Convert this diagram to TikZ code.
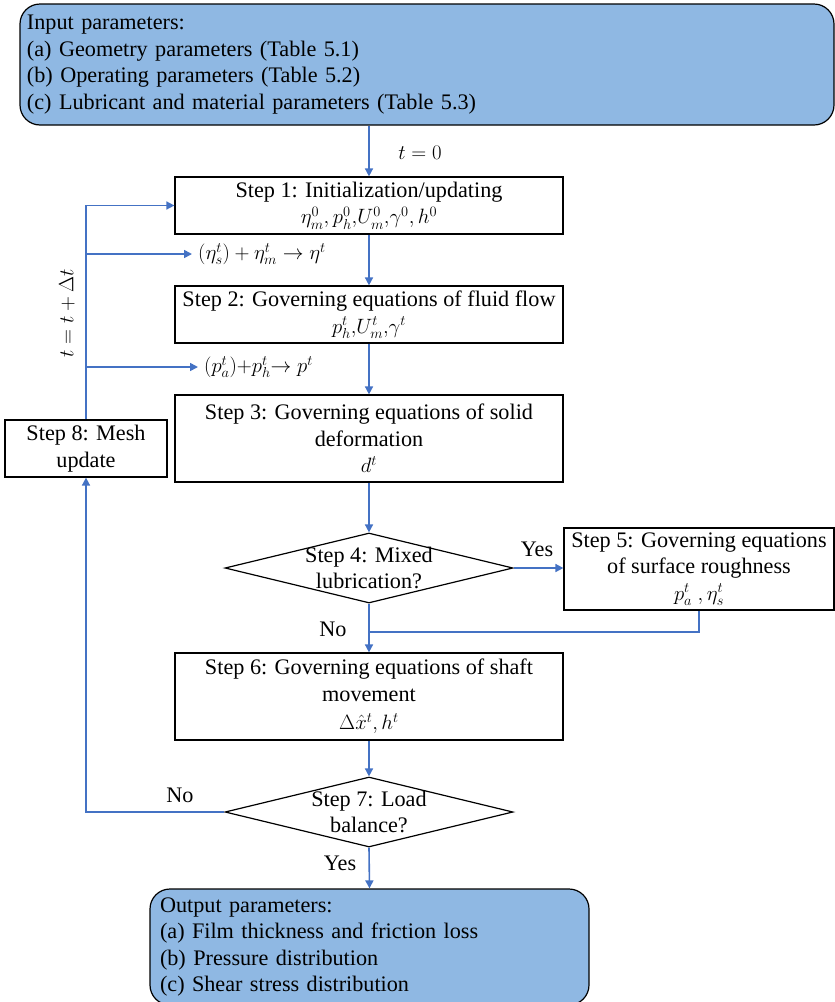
\documentclass[tikz,border=0pt]{standalone}
\usepackage{fontspec}
\setmainfont{Liberation Serif}
\newfontfamily\tnr{Liberation Serif}
\usetikzlibrary{arrows.meta,shapes.geometric}
\definecolor{flowblue}{RGB}{68,114,196}
\definecolor{boxfill}{RGB}{143,184,227}
\begin{document}
\begin{tikzpicture}[x=1pt,y=-1pt,
  every node/.style={font=\tnr\fontsize{22.2pt}{26.5pt}\selectfont},
  stepbox/.style={draw=black,line width=1.2pt,align=center,inner sep=0pt},
  iobox/.style={draw=black,line width=1.2pt,fill=boxfill,rounded corners=20pt,align=left,inner ysep=0pt},
  decision/.style={draw=black,line width=1.2pt,diamond,inner sep=0pt},
  conn/.style={draw=flowblue,line width=1.6pt},
  arr/.style={conn,-{Triangle[length=8pt,width=8pt]}},
  lbl/.style={inner sep=0pt}]
\useasboundingbox (0,0) rectangle (835,1002);

% input / output
\node[iobox,minimum width=814pt,minimum height=121pt,inner xsep=7pt,text width=800pt] (inp) at (427,64.5)
  {Input parameters:\\(a) Geometry parameters (Table 5.1)\\(b) Operating parameters (Table 5.2)\\(c) Lubricant and material parameters (Table 5.3)};
\node[iobox,minimum width=439pt,minimum height=116pt,inner xsep=10pt,text width=419pt] (out) at (369.5,947)
  {Output parameters:\\(a) Film thickness and friction loss\\(b) Pressure distribution\\(c) Shear stress distribution};

% steps
\node[stepbox,minimum width=388pt,minimum height=57pt] (s1) at (369,205.5)
  {Step 1: Initialization/updating\\$\eta_m^0, p_h^0{,}U_m^0{,}\gamma^0, h^0$};
\node[stepbox,minimum width=388pt,minimum height=57pt] (s2) at (369,314.5)
  {Step 2: Governing equations of fluid flow\\$p_h^t{,}U_m^t{,}\gamma^t$};
\node[stepbox,minimum width=388pt,minimum height=87pt] (s3) at (369,438.5)
  {Step 3: Governing equations of solid\\deformation\\$d^t$};
\node[stepbox,minimum width=270pt,minimum height=82pt] (s5) at (699,569)
  {Step 5: Governing equations\\of surface roughness\\$p_a^t\ ,\eta_s^t$};
\node[stepbox,minimum width=388pt,minimum height=87pt] (s6) at (369,696.5)
  {Step 6: Governing equations of shaft\\movement\\[2pt]$\Delta\hat{x}^t, h^t$};
\node[stepbox,minimum width=162pt,minimum height=57pt] (s8) at (86,448.5)
  {Step 8: Mesh\\update};

% decisions
\node[decision,minimum width=288pt,minimum height=70pt] (d4) at (369,568) {};
\node[lbl,align=center] (d4t) at (d4.center) {Step 4: Mixed\\lubrication?};
\node[decision,minimum width=288pt,minimum height=70pt] (d7) at (369,812) {};
\node[lbl,align=center] (d7t) at (d7.center) {Step 7: Load\\balance?};

% side labels
\node[anchor=west,inner xsep=6pt,inner ysep=0pt] (eq1) at (192,254) {$(\eta_s^t)+\eta_m^t\rightarrow\eta^t$};
\node[anchor=west,inner xsep=6pt,inner ysep=0pt] (eq2) at (198,367) {$(p_a^t){+}p_h^t{\rightarrow}\;p^t$};
\node[lbl] (t0) at (420,153) {$t=0$};
\node[lbl,rotate=90] (tdt) at (67,313) {$t=t+\Delta t$};
\node[lbl] (yes4) at (537,549) {Yes};
\node[lbl] (no4) at (333,629) {No};
\node[lbl] (no7) at (180,795) {No};
\node[lbl] (yes7) at (340,863) {Yes};

% connectors
\coordinate (merge) at (369,632);
\draw[arr] (s1.north |- inp.south) -- (s1.north);
\draw[arr] (s1.south) -- (s2.north);
\draw[arr] (s2.south) -- (s3.north);
\draw[arr] (s3.south) -- (d4.north);
\draw[arr] (d4.east) -- (d4.east -| s5.west);
\draw[arr] (d4.south) -- (s6.north);
\draw[conn] (s5.south) |- (merge);
\draw[arr] (s6.south) -- (d7.north);
\draw[arr] (d7.south) -- (out.north);
\draw[arr] (d7.west) -- (d7.west -| s8.south) -- (s8.south);
\draw[arr] (s8.north) |- (s1.west);
\draw[arr] (s8.north |- eq1.west) -- (eq1.west);
\draw[arr] (s8.north |- eq2.west) -- (eq2.west);
\end{tikzpicture}
\end{document}
